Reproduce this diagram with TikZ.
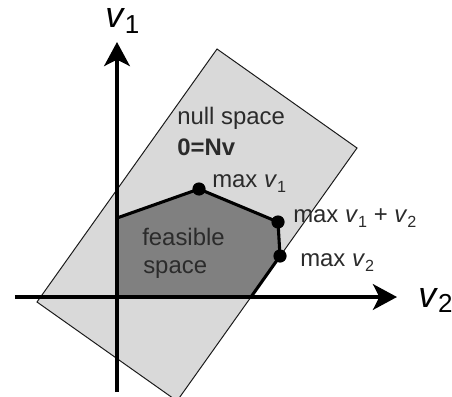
\documentclass[tikz,border=0pt]{standalone}
\usepackage{fontspec}
\setmainfont{Liberation Sans}
\usetikzlibrary{arrows.meta}
\definecolor{ink}{HTML}{1A1A1A}
\definecolor{nullgray}{HTML}{D9D9D9}
\definecolor{feasgray}{HTML}{808080}
\definecolor{labelgray}{HTML}{2B2B2B}
\newcommand{\vsub}[1]{\textit{v}\raisebox{-4pt}{\fontsize{11.5}{12}\selectfont #1}}
\newcommand{\axsub}[1]{\textit{v}\raisebox{-4pt}{\fontsize{18.5}{19}\selectfont #1}}
\tikzset{
  nullbox/.style={draw=ink,fill=nullgray,line width=0.7pt},
  feasregion/.style={draw=black,fill=feasgray,line width=2.2pt,line join=round},
  axisarr/.style={-{Stealth[length=6mm,width=6.4mm,inset=1.6mm]},line width=2.9pt},
  vertexdot/.style={circle,fill=black,minimum size=0.33cm,inner sep=0pt},
  note/.style={anchor=base west,inner sep=0pt,font=\fontsize{17}{20}\selectfont,text=labelgray},
  axislabel/.style={anchor=base west,inner sep=0pt,font=\fontsize{25.6}{28}\selectfont}
}

\begin{document}
\begin{tikzpicture}[x=1cm,y=1cm]
    \path[use as bounding box] (-2.925,-2.475) rectangle (8.375,7.425);
    % null space band
    \draw[nullbox] (2.5,6.2) -- (6.0,3.725) -- (1.5,-2.6) -- (-2.0,-0.125) -- cycle;

    % feasible polygon
    \coordinate (p0) at (0,0);
    \coordinate (p1) at (0,1.975);
    \coordinate (p2) at (2.05,2.7);
    \coordinate (p3) at (4.025,1.875);
    \coordinate (p4) at (4.075,1.025);
    \coordinate (p5) at (3.35,0);
    \draw[feasregion] (p0) -- (p1) -- (p2) -- (p3) -- (p4) -- (p5) -- cycle;

    % axes
    \coordinate (v1lo) at (0,-2.375);
    \coordinate (v1hi) at (0,6.375);
    \coordinate (v2lo) at (-2.55,0);
    \coordinate (v2hi) at (7.0,0);
    \draw[axisarr] (v1lo) -- (v1hi);
    \draw[axisarr] (v2lo) -- (v2hi);
    \node[axislabel] (lv1) at (-0.3,6.725) {\axsub{1}};
    \node[axislabel] (lv2) at (7.525,-0.25) {\axsub{2}};

    % vertices
    \node[vertexdot] (maxa) at (p2) {};
    \node[vertexdot] (maxab) at (p3) {};
    \node[vertexdot] (maxb) at (p4) {};

    \node[note] (nulltxt) at (1.5,4.3) {null space};
    \node[note] (nulleq) at (1.5,3.55) {\textbf{0=Nv}};
    \node[note] (maxatxt) at (2.375,2.75) {max \vsub{1}};
    \node[note] (maxabtxt) at (4.4,1.875) {max \vsub{1} + \vsub{2}};
    \node[note] (maxbtxt) at (4.575,0.775) {max \vsub{2}};
    \node[note] (feas1) at (0.625,1.3) {feasible};
    \node[note] (feas2) at (0.65,0.6) {space};
  \end{tikzpicture}
\end{document}
